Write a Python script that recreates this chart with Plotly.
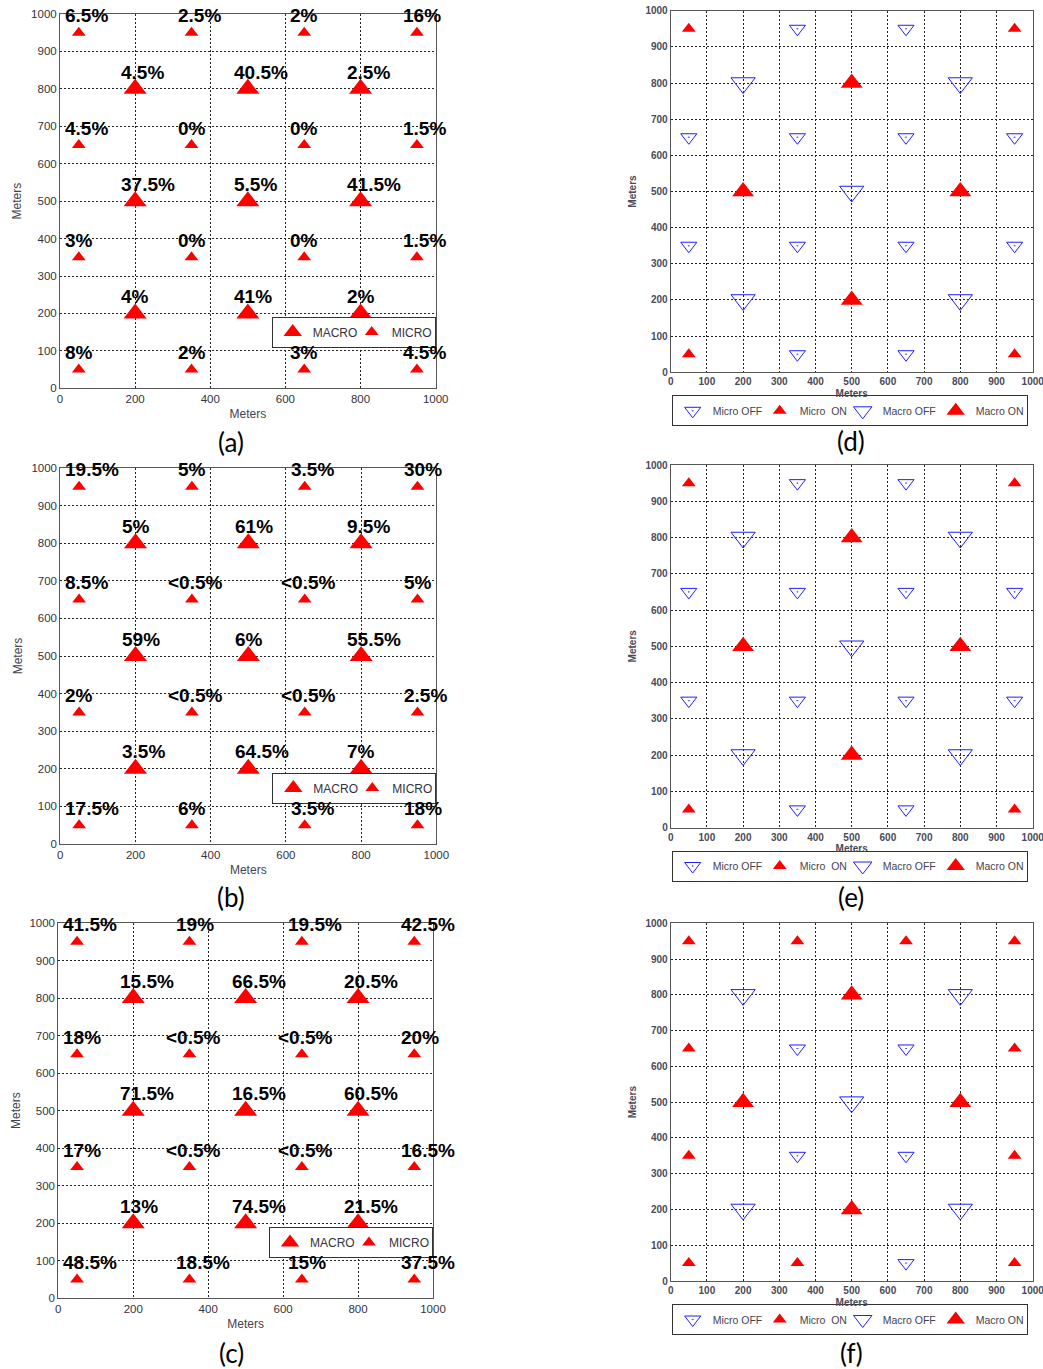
import plotly.graph_objects as go

W, H = 1043, 1369

# Site coordinates (meters)
MICRO_X = [50, 350, 650, 950]
MICRO_Y = [950, 650, 350, 50]
MACRO_X = [200, 500, 800]
MACRO_Y = [800, 500, 200]

# Percentage labels, one row per y position (top to bottom)
micro_pct_a = [["6.5%", "2.5%", "2%", "16%"],
               ["4.5%", "0%", "0%", "1.5%"],
               ["3%", "0%", "0%", "1.5%"],
               ["8%", "2%", "3%", "4.5%"]]
macro_pct_a = [["4.5%", "40.5%", "2.5%"],
               ["37.5%", "5.5%", "41.5%"],
               ["4%", "41%", "2%"]]

micro_pct_b = [["19.5%", "5%", "3.5%", "30%"],
               ["8.5%", "<0.5%", "<0.5%", "5%"],
               ["2%", "<0.5%", "<0.5%", "2.5%"],
               ["17.5%", "6%", "3.5%", "18%"]]
macro_pct_b = [["5%", "61%", "9.5%"],
               ["59%", "6%", "55.5%"],
               ["3.5%", "64.5%", "7%"]]

micro_pct_c = [["41.5%", "19%", "19.5%", "42.5%"],
               ["18%", "<0.5%", "<0.5%", "20%"],
               ["17%", "<0.5%", "<0.5%", "16.5%"],
               ["48.5%", "18.5%", "15%", "37.5%"]]
macro_pct_c = [["15.5%", "66.5%", "20.5%"],
               ["71.5%", "16.5%", "60.5%"],
               ["13%", "74.5%", "21.5%"]]

# ON (1) / OFF (0) states, one row per y position (top to bottom)
micro_state_d = [[1, 0, 0, 1], [0, 0, 0, 0], [0, 0, 0, 0], [1, 0, 0, 1]]
macro_state_d = [[0, 1, 0], [1, 0, 1], [0, 1, 0]]
micro_state_e = [[1, 0, 0, 1], [0, 0, 0, 0], [0, 0, 0, 0], [1, 0, 0, 1]]
macro_state_e = [[0, 1, 0], [1, 0, 1], [0, 1, 0]]
micro_state_f = [[1, 1, 1, 1], [1, 0, 0, 1], [1, 0, 0, 1], [1, 1, 0, 1]]
macro_state_f = [[0, 1, 0], [1, 0, 1], [0, 1, 0]]

captions = ["(a)", "(b)", "(c)", "(d)", "(e)", "(f)"]

# Plot-area boxes in pixels: (left, right, top, bottom)
boxes = [
    (60.0, 435.7, 14.0, 388.3),
    (60.3, 436.3, 468.0, 844.0),
    (58.3, 433.0, 923.0, 1298.3),
    (670.7, 1032.7, 10.7, 372.3),
    (670.7, 1032.7, 465.0, 827.5),
    (670.7, 1032.7, 923.3, 1281.0),
]
# Legend centre rows (px) for the inset legends of the percentage maps
inset_legend_mid = [332.0, 788.0, 1242.5]
caption_pos = [(231, 442), (231, 897), (231, 1353), (851, 441), (851, 897), (851, 1353)]

RED = "#ff0000"
BLUE = "#1f1fff"
FONT = "Arial, Liberation Sans, sans-serif"


def grid_points(xs, ys):
    return [x for y in ys for x in xs], [y for y in ys for x in xs]


def split_state(xs, ys, state):
    on_x, on_y, off_x, off_y = [], [], [], []
    for r, y in enumerate(ys):
        for c, x in enumerate(xs):
            if state[r][c]:
                on_x.append(x); on_y.append(y)
            else:
                off_x.append(x); off_y.append(y)
    return on_x, on_y, off_x, off_y


fig = go.Figure()
annotations = []
layout = {}

pct_sets = [(macro_pct_a, micro_pct_a), (macro_pct_b, micro_pct_b), (macro_pct_c, micro_pct_c)]
state_sets = [(micro_state_d, macro_state_d), (micro_state_e, macro_state_e), (micro_state_f, macro_state_f)]

for i in range(6):
    n = i + 1
    xa = "x" if n == 1 else f"x{n}"
    ya = "y" if n == 1 else f"y{n}"
    leg = "legend" if n == 1 else f"legend{n}"
    left, right, top, bottom = boxes[i]
    small = i >= 3

    tickfont = dict(family=FONT, size=10 if small else 11.5,
                    color="#4a4a58" if small else "#333340",
                    weight="bold" if small else "normal")
    titlefont = dict(family=FONT, size=10 if small else 12,
                     color="#4a4a58" if small else "#444450",
                     weight="bold" if small else "normal")
    common = dict(range=[0, 1000], tick0=0, showgrid=True, gridcolor="#222222",
                  griddash="2px,2px", gridwidth=1, showline=True, mirror=True,
                  linecolor="#555555", linewidth=1, zeroline=False, ticks="",
                  tickfont=tickfont, automargin=False, ticklabeloverflow="allow")
    layout[("xaxis" if n == 1 else f"xaxis{n}")] = dict(
        common, domain=[left / W, right / W], anchor=ya, dtick=100 if small else 200,
        title=dict(text="Meters", font=titlefont, standoff=3 if small else 5))
    layout[("yaxis" if n == 1 else f"yaxis{n}")] = dict(
        common, domain=[1 - bottom / H, 1 - top / H], anchor=xa, dtick=100,
        title=dict(text="Meters", font=titlefont, standoff=6))

    if not small:
        macro_pct, micro_pct = pct_sets[i]
        mx, my = grid_points(MACRO_X, MACRO_Y)
        ux, uy = grid_points(MICRO_X, MICRO_Y)
        fig.add_trace(go.Scatter(x=mx, y=my, mode="markers", name="MACRO", legendwidth=34,
                                 marker=dict(symbol="triangle-up", size=20, color=RED),
                                 xaxis=xa, yaxis=ya, legend=leg))
        fig.add_trace(go.Scatter(x=ux, y=uy, mode="markers", name="MICRO", legendwidth=38,
                                 marker=dict(symbol="triangle-up", size=12, color=RED),
                                 xaxis=xa, yaxis=ya, legend=leg))
        labels = [(MACRO_X, MACRO_Y, macro_pct), (MICRO_X, MICRO_Y, micro_pct)]
        for xs, ys, pct in labels:
            for r, y in enumerate(ys):
                for c, x in enumerate(xs):
                    txt = pct[r][c]
                    shift = 68 if txt.startswith("<") else 42
                    annotations.append(dict(
                        x=x - shift, y=y + 45, xref=xa, yref=ya, text=txt,
                        showarrow=False, xanchor="left", yanchor="middle",
                        font=dict(family=FONT, size=19, color="black", weight="bold")))
        layout[leg] = dict(orientation="h", x=right / W, xanchor="right",
                           y=1 - inset_legend_mid[i] / H, yanchor="middle",
                           bgcolor="white", bordercolor="#333333", borderwidth=1,
                           font=dict(family=FONT, size=12, color="#333340"))
    else:
        micro_state, macro_state = state_sets[i - 3]
        u_on_x, u_on_y, u_off_x, u_off_y = split_state(MICRO_X, MICRO_Y, micro_state)
        m_on_x, m_on_y, m_off_x, m_off_y = split_state(MACRO_X, MACRO_Y, macro_state)
        fig.add_trace(go.Scatter(x=u_off_x, y=u_off_y, mode="markers", name="Micro OFF",
                                 legendwidth=42,
                                 marker=dict(symbol="triangle-down-open-dot", size=14, color=BLUE,
                                             line=dict(width=1, color=BLUE)),
                                 xaxis=xa, yaxis=ya, legend=leg))
        fig.add_trace(go.Scatter(x=u_on_x, y=u_on_y, mode="markers", name="Micro \u00a0ON",
                                 legendwidth=38,
                                 marker=dict(symbol="triangle-up", size=12, color=RED),
                                 xaxis=xa, yaxis=ya, legend=leg))
        fig.add_trace(go.Scatter(x=m_off_x, y=m_off_y, mode="markers", name="Macro OFF",
                                 legendwidth=48,
                                 marker=dict(symbol="triangle-down-open", size=21, color=BLUE,
                                             line=dict(width=1, color=BLUE)),
                                 xaxis=xa, yaxis=ya, legend=leg))
        fig.add_trace(go.Scatter(x=m_on_x, y=m_on_y, mode="markers", name="Macro ON",
                                 legendwidth=46,
                                 marker=dict(symbol="triangle-up", size=19, color=RED),
                                 xaxis=xa, yaxis=ya, legend=leg))
        layout[leg] = dict(orientation="h", x=(left + 1) / W, xanchor="left",
                           y=1 - (bottom + 38.5) / H, yanchor="middle",
                           bgcolor="white", bordercolor="#333333", borderwidth=1,
                           font=dict(family=FONT, size=10.5, color="#444450"))

for (cx, cy), cap in zip(caption_pos, captions):
    annotations.append(dict(x=cx / W, y=1 - cy / H, xref="paper", yref="paper", text=cap,
                            showarrow=False, xanchor="center", yanchor="middle",
                            font=dict(family="Lato, Open Sans, sans-serif", size=26, color="black")))

fig.update_layout(width=W, height=H,
                  margin=dict(l=0, r=0, t=0, b=0, pad=0, autoexpand=False),
                  plot_bgcolor="white", paper_bgcolor="white", showlegend=True,
                  annotations=annotations, **layout)

fig.write_html("out.html")
